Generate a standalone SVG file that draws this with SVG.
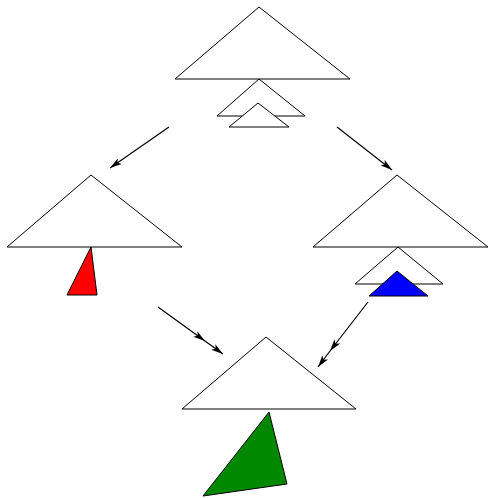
<svg xmlns="http://www.w3.org/2000/svg" width="489" height="498" viewBox="0 0 489 498">
<style>
.tri{fill:#fff;stroke:#000;stroke-width:1}
.conn{fill:none;stroke:#000;stroke-width:1.2}
</style>
<defs>
<marker id="ah" markerUnits="userSpaceOnUse" markerWidth="13" markerHeight="7" refX="12" refY="3.5" orient="auto">
<path d="M0,0 L12,3.5 L0,7 L3,3.5 z" fill="#000"/>
</marker>
</defs>
<rect width="489" height="498" fill="#fff"/>
<g id="node-top">
<polygon class="tri" points="259,7 175,79 350,79"/>
<polygon class="tri" points="259,79 217,116 305,116"/>
<polygon class="tri" points="258,103 229,127 289,127"/>
</g>
<g id="node-left">
<polygon class="tri" points="91,175 7,247 182,247"/>
<polygon points="91,247 67,295 97,295" fill="#ff0000" stroke="#000" stroke-width="1"/>
</g>
<g id="node-right">
<polygon class="tri" points="397,175 313,247 488,247"/>
<polygon class="tri" points="398,247 355,284 443,284"/>
<polygon points="397,271 369,296 428,296" fill="#0000ff" stroke="#000" stroke-width="1"/>
</g>
<g id="node-bottom">
<polygon class="tri" points="266,337 182,409 356,409"/>
<polygon points="269,412 203,496 287,484" fill="#008800" stroke="#000" stroke-width="1"/>
</g>
<g id="connectors">
<polyline class="conn" points="169,127 110,168" marker-end="url(#ah)"/>
<polyline class="conn" points="337,127 392,170" marker-end="url(#ah)"/>
<polyline class="conn" points="158,307 205,341 223,354" marker-mid="url(#ah)" marker-end="url(#ah)"/>
<polyline class="conn" points="368,302 330,351 318,367" marker-mid="url(#ah)" marker-end="url(#ah)"/>
</g>
</svg>
